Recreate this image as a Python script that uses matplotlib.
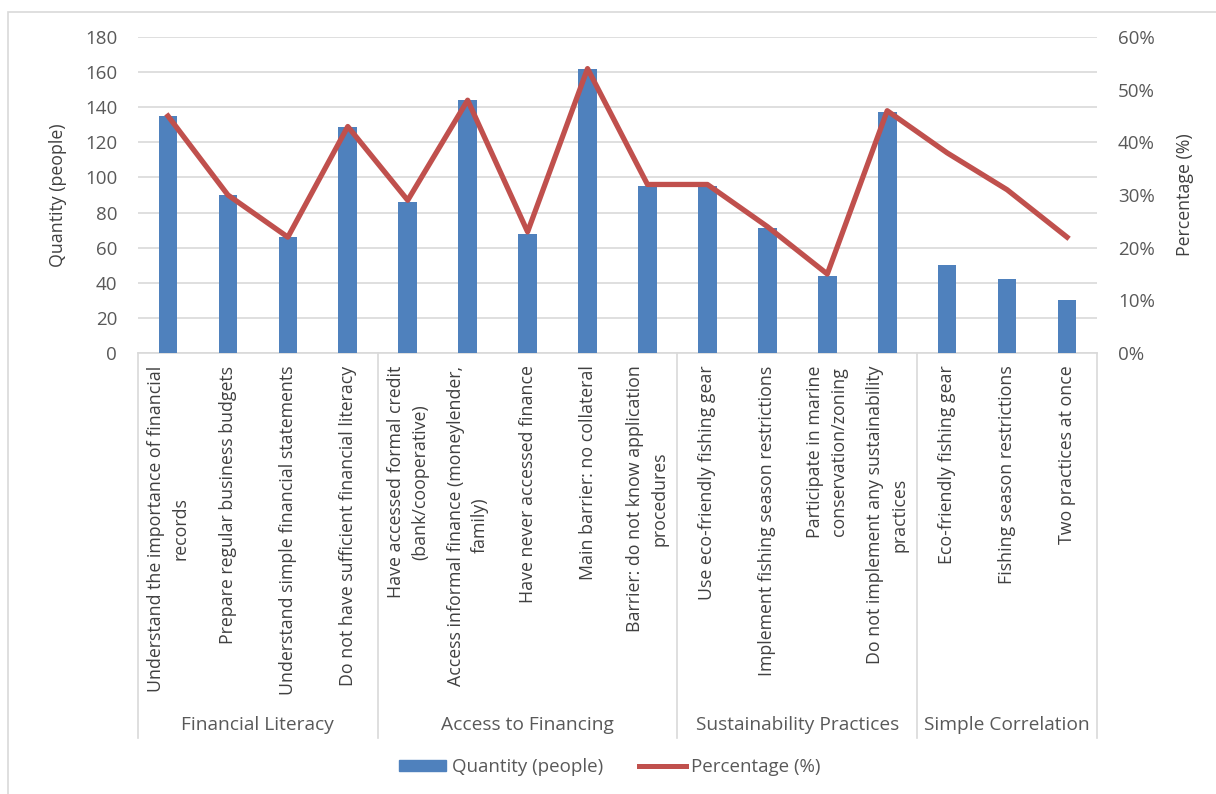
import matplotlib.pyplot as plt
from matplotlib.patches import Patch, Rectangle
from matplotlib.lines import Line2D
from matplotlib.ticker import FuncFormatter

plt.rcParams['font.family'] = ['Open Sans', 'DejaVu Sans']

# data
labels = [
    'Understand the importance of financial\nrecords',
    'Prepare regular business budgets',
    'Understand simple financial statements',
    'Do not have sufficient financial literacy',
    'Have accessed formal credit\n(bank/cooperative)',
    'Access informal finance (moneylender,\nfamily)',
    'Have never accessed finance',
    'Main barrier: no collateral',
    'Barrier: do not know application\nprocedures',
    'Use eco-friendly fishing gear',
    'Implement fishing season restrictions',
    'Participate in marine\nconservation/zoning',
    'Do not implement any sustainability\npractices',
    'Eco-friendly fishing gear',
    'Fishing season restrictions',
    'Two practices at once',
]
quantity = [135, 90, 66, 129, 86, 144, 68, 162, 95, 95, 71, 44, 137, 50, 42, 30]
percentage = [45, 30, 22, 43, 29, 48, 23, 54, 32, 32, 24, 15, 46, 38, 31, 22]
groups = ['Financial Literacy', 'Access to Financing', 'Sustainability Practices', 'Simple Correlation']
group_sizes = [4, 5, 4, 3]

BLUE = '#4F81BD'
RED = '#C0504D'
GRID = '#D9D9D9'
TXT = '#595959'

W, H = 1216, 794
fig = plt.figure(figsize=(W / 100, H / 100), dpi=100)

# outer chart border
fig.patches.append(Rectangle((8 / W, -0.1), 1.2, 1 - 12 / H + 0.1, transform=fig.transFigure,
                             fill=False, edgecolor=GRID, linewidth=1.2))

left, right, top, bottom = 138, 1097, 37, 353
ax = fig.add_axes([left / W, 1 - bottom / H, (right - left) / W, (bottom - top) / H])
x = list(range(len(labels)))
ax.bar(x, quantity, width=0.31, color=BLUE, zorder=3)
ax.set_xlim(-0.5, len(labels) - 0.5)
ax.set_ylim(0, 180)
ax.set_yticks(range(0, 181, 20))
ax.grid(axis='y', color=GRID, linewidth=1.2, zorder=0)
for s in ['left', 'right', 'top']:
    ax.spines[s].set_visible(False)
ax.spines['bottom'].set_color(GRID)
ax.spines['bottom'].set_linewidth(1.2)
ax.tick_params(axis='y', length=0, pad=15, labelsize=13.5, labelcolor=TXT)
ax.set_xticks(x)
ax.set_xticklabels(labels, rotation=90, va='top', ha='center', multialignment='center',
                   fontsize=12.8, color='#404040', linespacing=1.45)
ax.tick_params(axis='x', length=0, pad=9)
ax.set_ylabel('Quantity (people)', fontsize=12.8, color='#404040')
ax.yaxis.set_label_coords((67 - left) / (right - left), 0.5)

ax2 = ax.twinx()
ax2.plot(x, percentage, color=RED, linewidth=3.8, zorder=4)
ax2.set_ylim(0, 60)
ax2.set_yticks(range(0, 61, 10))
ax2.yaxis.set_major_formatter(FuncFormatter(lambda v, p: f'{v:.0f}%'))
for s in ax2.spines.values():
    s.set_visible(False)
ax2.tick_params(axis='y', length=0, pad=15, labelsize=13.5, labelcolor=TXT)
ax2.set_ylabel('Percentage (%)', fontsize=12.8, color='#404040')
ax2.yaxis.set_label_coords((1176 - left) / (right - left), 0.5)

# multi-level category axis
tr = ax.get_xaxis_transform()
line_bottom = -(738 - bottom) / (bottom - top)
label_y = -(725 - bottom) / (bottom - top)
start = 0
bounds = [0]
for g, n in zip(groups, group_sizes):
    ax.text(start + (n - 1) / 2, label_y, g, transform=tr, ha='center', va='center',
            fontsize=13.8, color=TXT)
    start += n
    bounds.append(start)
for b in bounds:
    ax.plot([b - 0.5, b - 0.5], [0, line_bottom], transform=tr, color=GRID,
            linewidth=1.2, clip_on=False)

handles = [Patch(color=BLUE, label='Quantity (people)'),
           Line2D([0], [0], color=RED, linewidth=3.6, label='Percentage (%)')]
fig.legend(handles=handles, loc='center', bbox_to_anchor=(610 / W, 1 - 767 / H), ncol=2,
           frameon=False, fontsize=13.5, handlelength=2.5, handleheight=0.55,
           handletextpad=0.3, columnspacing=1.9, labelcolor=TXT)

fig.savefig('out.png', dpi=100)
